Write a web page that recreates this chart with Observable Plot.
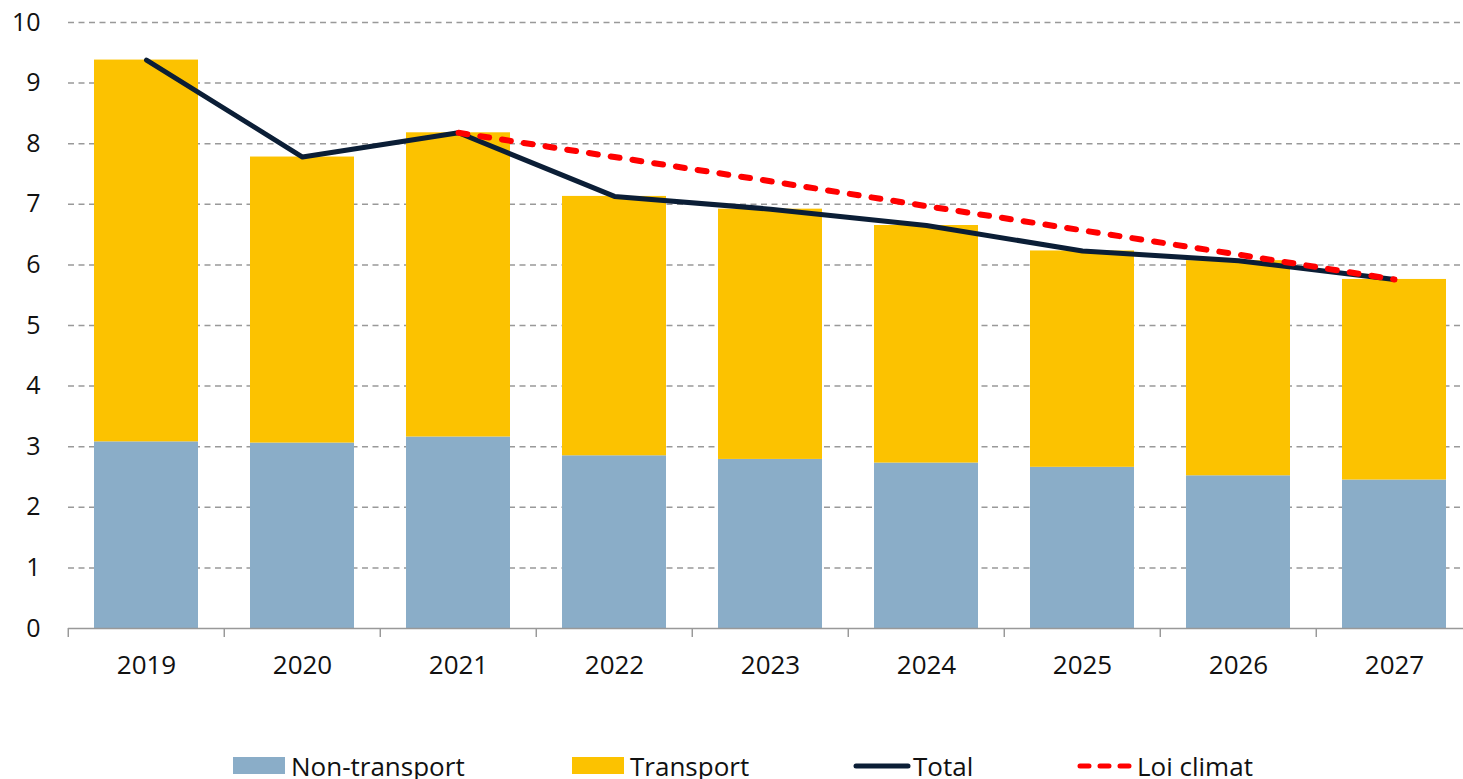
<!DOCTYPE html>
<html>
<head>
<meta charset="utf-8">
<script src="https://cdn.jsdelivr.net/npm/d3@7"></script>
<script src="https://cdn.jsdelivr.net/npm/@observablehq/plot@0.6"></script>
<style>
  html, body { margin: 0; padding: 0; background: #fff; overflow: hidden; }
  body { font-family: "Open Sans", sans-serif; color: #111; }
  #legend { position: relative; height: 39px; font-size: 26px; }
  .item { position: absolute; top: 6px; display: flex; align-items: center; height: 39px; }
  .sw { display: inline-block; margin-right: 6px; }
</style>
</head>
<body>
<div id="chart"></div>
<div id="legend"></div>
<script>
const years = ["2019","2020","2021","2022","2023","2024","2025","2026","2027"];
const nonTransport = [3.08, 3.06, 3.16, 2.85, 2.79, 2.73, 2.66, 2.52, 2.45];
const transport    = [6.30, 4.72, 5.02, 4.28, 4.13, 3.92, 3.57, 3.55, 3.31];
const total        = [9.38, 7.78, 8.18, 7.13, 6.92, 6.65, 6.23, 6.07, 5.76];
const loiYears  = ["2021","2022","2023","2024","2025","2026","2027"];
const loiClimat = [8.18, 7.78, 7.38, 6.97, 6.57, 6.17, 5.76];
const yTicks = [0,1,2,3,4,5,6,7,8,9,10];
const seriesNames = ["Non-transport", "Transport"];
const seriesColors = ["#8AADC8", "#FCC200"];

const bars = [];
years.forEach((y, i) => {
  bars.push({year: y, series: seriesNames[0], value: nonTransport[i]});
  bars.push({year: y, series: seriesNames[1], value: transport[i]});
});
const totalData = years.map((y, i) => ({year: y, value: total[i]}));
const loiData = loiYears.map((y, i) => ({year: y, value: loiClimat[i]}));

const W = 1463, H = 740;
const xRange = [66, 1474];
const step = (xRange[1] - xRange[0]) / years.length;

const chart = Plot.plot({
  width: W, height: H,
  marginLeft: 68, marginRight: 0, marginTop: 22, marginBottom: 112,
  style: {fontFamily: "Open Sans, sans-serif", color: "#111", background: "#fff", overflow: "visible"},
  x: {type: "band", domain: years, range: xRange, paddingInner: 0.335, paddingOuter: 0.1675, axis: null, label: null},
  y: {domain: [0, 10], axis: null, label: null},
  color: {domain: seriesNames, range: seriesColors},
  marks: [
    Plot.ruleY(yTicks.filter(d => d > 0), {stroke: "#999", strokeWidth: 1.5, strokeDasharray: "6,4.5"}),
    Plot.barY(bars, {x: "year", y: "value", fill: "series", order: seriesNames}),
    Plot.ruleY([0], {stroke: "#999", strokeWidth: 1.5}),
    Plot.axisX({tickSize: 9, dx: -step / 2, text: null, label: null, stroke: "#999", strokeWidth: 1.5}),
    Plot.axisX({tickSize: 0, tickPadding: 27, fontSize: 26, label: null}),
    Plot.axisY({ticks: yTicks, tickSize: 0, tickPadding: 28, fontSize: 25, label: null}),
    Plot.line(totalData, {x: "year", y: "value", stroke: "#0B1E36", strokeWidth: 5, strokeLinecap: "round", strokeLinejoin: "round"}),
    Plot.line(loiData, {x: "year", y: "value", stroke: "#FF0000", strokeWidth: 6, strokeDasharray: "9,13", strokeLinecap: "round"})
  ]
});
document.getElementById("chart").appendChild(chart);

const legendItems = [
  {label: "Non-transport", left: 233, type: "rect", color: seriesColors[0]},
  {label: "Transport", left: 572, type: "rect", color: seriesColors[1]},
  {label: "Total", left: 853, type: "line", color: "#0B1E36"},
  {label: "Loi climat", left: 1077, type: "dash", color: "#FF0000"}
];
const legend = document.getElementById("legend");
legendItems.forEach(it => {
  const d = document.createElement("div");
  d.className = "item";
  d.style.left = it.left + "px";
  let sw;
  if (it.type === "rect") {
    sw = `<span class="sw" style="width:52px;height:17px;background:${it.color}"></span>`;
  } else if (it.type === "line") {
    sw = `<svg class="sw" width="58" height="10" style="margin-right:2px"><line x1="3" y1="5" x2="55" y2="5" stroke="${it.color}" stroke-width="5" stroke-linecap="round"/></svg>`;
  } else {
    sw = `<svg class="sw" width="58" height="10" style="margin-right:2px"><line x1="3" y1="5" x2="55" y2="5" stroke="${it.color}" stroke-width="5" stroke-dasharray="9,11" stroke-linecap="round"/></svg>`;
  }
  d.innerHTML = sw + `<span>${it.label}</span>`;
  legend.appendChild(d);
});
</script>
</body>
</html>
